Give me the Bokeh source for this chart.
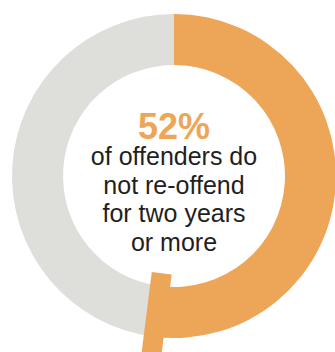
import math
from bokeh.plotting import figure
from bokeh.models import Range1d
from bokeh.core.properties import value
from bokeh.embed import file_html
from bokeh.resources import INLINE

# Data
categories = ["Do not re-offend", "Re-offend"]
shares = [52, 48]
colors = ["#EDA558", "#DEDFDB"]
headline = "52%"
caption_lines = ["of offenders do", "not re-offend", "for two years", "or more"]

W, H = 335, 352
p = figure(width=W, height=H, output_backend="svg", toolbar_location=None,
           x_range=Range1d(0, W), y_range=Range1d(0, H), min_border=0)
p.axis.visible = False
p.grid.visible = False
p.outline_line_color = None
p.background_fill_color = "white"
p.border_fill_color = "white"

cx, cy = 173.5, H - 175.5
r_in, r_out = 111, 162

total = sum(shares)
angle = math.pi / 2
ends = []
for share, col in zip(shares, colors):
    sweep = 2 * math.pi * share / total
    a_start = angle - sweep
    p.annular_wedge(x=cx, y=cy, inner_radius=r_in, outer_radius=r_out,
                    start_angle=a_start, end_angle=angle, direction="anticlock",
                    fill_color=col, line_color=None)
    ends.append(a_start)
    angle = a_start

# pointer tab at the end of the highlighted share
a_tab = ends[0]
t_r1, t_r2 = 98, 205
t_mid = (t_r1 + t_r2) / 2
p.rect(x=cx + t_mid * math.cos(a_tab), y=cy + t_mid * math.sin(a_tab),
       width=20, height=t_r2 - t_r1, angle=a_tab + math.pi / 2,
       fill_color=colors[0], line_color=None)

p.text(x=[cx], y=[H - 126], text=[headline], text_align="center",
       text_baseline="alphabetic", text_font=value("Liberation Sans"),
       text_font_style="bold", text_font_size="36px", text_color=colors[0])

base = 155.5
for i, line in enumerate(caption_lines):
    p.text(x=[cx], y=[H - (base + 28.7 * i)], text=[line], text_align="center",
           text_baseline="alphabetic", text_font=value("Liberation Sans"),
           text_font_size="25px", text_color="#231F20")

open("out.html", "w").write(file_html(p, INLINE))
